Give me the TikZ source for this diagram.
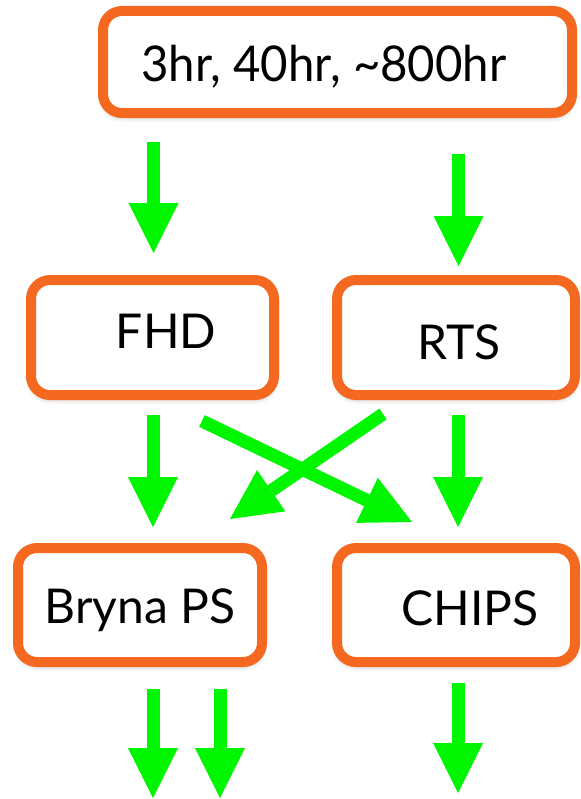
\documentclass[tikz,border=0pt]{standalone}
\usepackage{fontspec}
\setmainfont{Lato}
\usetikzlibrary{arrows.meta,shadows.blur}

\definecolor{boxorange}{RGB}{245,104,32}
\definecolor{flowgreen}{RGB}{0,245,0}

\begin{document}
\begin{tikzpicture}[x=0.75pt,y=-0.75pt,
  stage/.style={draw=boxorange, line width=7.5pt, fill=white,
    rounded corners=14.25pt, inner sep=0pt,
    blur shadow={shadow xshift=0pt, shadow yshift=-3pt,
      shadow blur radius=4pt, shadow opacity=30}},
  stagetext/.style={font=\fontsize{36}{40}\selectfont, anchor=base, inner sep=0pt},
  flow/.style={draw=flowgreen, line width=9.75pt,
    -{Triangle[length=37.5pt,width=37.5pt,line width=0pt]}}
]
\useasboundingbox (0,0) rectangle (581,799);

% boxes
\node[stage, minimum width=351.75pt, minimum height=76.5pt] (runs) at (337.5,62) {};
\node[stage, minimum width=182.25pt, minimum height=86.25pt] (fhd) at (152.5,337.5) {};
\node[stage, minimum width=178.5pt, minimum height=86.25pt] (rts) at (456,337.5) {};
\node[stage, minimum width=183pt, minimum height=85.5pt] (bryna) at (140,605) {};
\node[stage, minimum width=178.5pt, minimum height=85.5pt] (chips) at (456,605) {};

% labels
\node[stagetext, font=\fontsize{37}{41}\selectfont, xscale=0.96] (runst) at (324,81) {3hr, 40hr, \textasciitilde800hr};
\node[stagetext] (fhdt) at (166,348) {FHD};
\node[stagetext] (rtst) at (459,359) {RTS};
\node[stagetext] (brynat) at (140,623) {Bryna PS};
\node[stagetext] (chipst) at (470,625) {CHIPS};

% arrow end points
\coordinate (r1a) at (153.5,142);  \coordinate (r1b) at (153.5,253);
\coordinate (r2a) at (458.5,154);  \coordinate (r2b) at (458.5,266);
\coordinate (f1a) at (153,415);    \coordinate (f1b) at (153,527);
\coordinate (f2a) at (202,421);    \coordinate (f2b) at (412,522);
\coordinate (t1a) at (383,414);    \coordinate (t1b) at (230,519);
\coordinate (t2a) at (458,415);    \coordinate (t2b) at (458,527);
\coordinate (b1a) at (153,689);    \coordinate (b1b) at (153,798);
\coordinate (b2a) at (220,689);    \coordinate (b2b) at (220,798);
\coordinate (c1a) at (458,683);    \coordinate (c1b) at (458,793);

% flows
\draw[flow] (r1a) -- (r1b);
\draw[flow] (r2a) -- (r2b);
\draw[flow] (f1a) -- (f1b);
\draw[flow] (f2a) -- (f2b);
\draw[flow] (t1a) -- (t1b);
\draw[flow] (t2a) -- (t2b);
\draw[flow] (b1a) -- (b1b);
\draw[flow] (b2a) -- (b2b);
\draw[flow] (c1a) -- (c1b);
\end{tikzpicture}
\end{document}
